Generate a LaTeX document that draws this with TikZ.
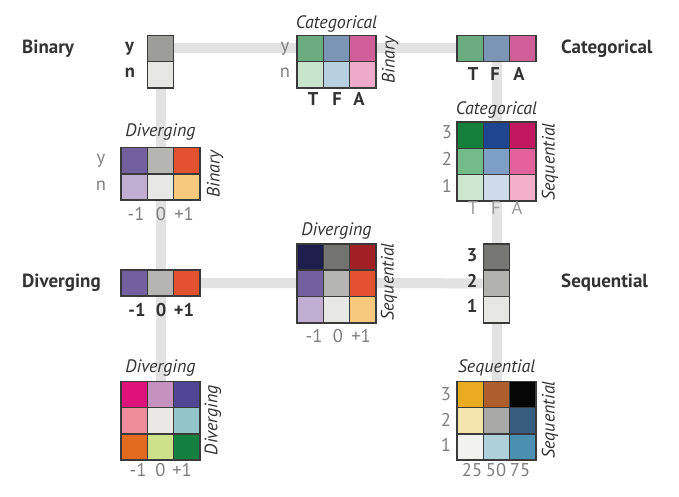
\documentclass[tikz,border=0pt]{standalone}
\usepackage{fontspec}
\setmainfont{PT Sans}
\usetikzlibrary{backgrounds}
%% general colours
\definecolor{cellborder}{HTML}{3A3A3A}
\definecolor{labeldark}{HTML}{333333}
\definecolor{labelgray}{HTML}{7E7E7E}
\definecolor{labellight}{HTML}{9A9A9A}
\definecolor{trackgray}{HTML}{E2E2E2}
%% one-dimensional boxes
\definecolor{biny}{HTML}{9D9D9A}\definecolor{binn}{HTML}{E6E6E2}
\definecolor{catT}{HTML}{6AAB80}\definecolor{catF}{HTML}{7B96B4}\definecolor{catA}{HTML}{D05F97}
\definecolor{divm}{HTML}{72609F}\definecolor{divz}{HTML}{B5B5B1}\definecolor{divp}{HTML}{E25231}
\definecolor{seq3}{HTML}{777775}\definecolor{seq2}{HTML}{B1B1AE}\definecolor{seq1}{HTML}{E6E6E2}
%% categorical x binary
\definecolor{cbyT}{HTML}{6AAB80}\definecolor{cbyF}{HTML}{7B96B4}\definecolor{cbyA}{HTML}{D05F97}
\definecolor{cbnT}{HTML}{C8E3CB}\definecolor{cbnF}{HTML}{B7D0E0}\definecolor{cbnA}{HTML}{EEAAC8}
%% diverging x binary
\definecolor{dbym}{HTML}{72609F}\definecolor{dbyz}{HTML}{B5B5B1}\definecolor{dbyp}{HTML}{E25231}
\definecolor{dbnm}{HTML}{BFAED2}\definecolor{dbnz}{HTML}{E7E7E3}\definecolor{dbnp}{HTML}{F7C97C}
%% categorical x sequential
\definecolor{cs3T}{HTML}{157F3C}\definecolor{cs3F}{HTML}{1F4591}\definecolor{cs3A}{HTML}{C3175F}
\definecolor{cs2T}{HTML}{74BB8A}\definecolor{cs2F}{HTML}{7D9FC5}\definecolor{cs2A}{HTML}{E3629C}
\definecolor{cs1T}{HTML}{CCE6D0}\definecolor{cs1F}{HTML}{CCDBE7}\definecolor{cs1A}{HTML}{F1AFC9}
%% diverging x sequential
\definecolor{ds3m}{HTML}{1E1D4B}\definecolor{ds3z}{HTML}{737471}\definecolor{ds3p}{HTML}{A12026}
\definecolor{ds2m}{HTML}{72609F}\definecolor{ds2z}{HTML}{B5B5B1}\definecolor{ds2p}{HTML}{E25231}
\definecolor{ds1m}{HTML}{BFAED2}\definecolor{ds1z}{HTML}{E7E7E3}\definecolor{ds1p}{HTML}{F7C97C}
%% diverging x diverging
\definecolor{ddpm}{HTML}{DD137B}\definecolor{ddpz}{HTML}{C592C0}\definecolor{ddpp}{HTML}{4F4595}
\definecolor{ddzm}{HTML}{EF8C9A}\definecolor{ddzz}{HTML}{E9E8E4}\definecolor{ddzp}{HTML}{93C4C8}
\definecolor{ddmm}{HTML}{E26B20}\definecolor{ddmz}{HTML}{CCE18A}\definecolor{ddmp}{HTML}{138040}
%% sequential x sequential
\definecolor{ss3a}{HTML}{E9AB20}\definecolor{ss3b}{HTML}{AD5E2A}\definecolor{ss3c}{HTML}{050505}
\definecolor{ss2a}{HTML}{F4E4AD}\definecolor{ss2b}{HTML}{A9A9A7}\definecolor{ss2c}{HTML}{395D80}
\definecolor{ss1a}{HTML}{F2F2F0}\definecolor{ss1b}{HTML}{AED0DA}\definecolor{ss1c}{HTML}{4B8FB1}
\begin{document}
\begin{tikzpicture}
[x=1pt,y=-1pt,
  celldecorate/.style={shape=rectangle,draw=cellborder,line width=1.6pt,
    minimum width=26.3pt,minimum height=26.3pt,inner sep=0pt},%
  linedecorate/.style={-,line width=10pt,draw=trackgray},%
  namedecorate/.style={anchor=west,inner sep=0pt,text=labeldark,
    font=\fontsize{19}{21}\selectfont\bfseries},%
  titledecorate/.style={inner sep=0pt,text=labeldark,
    font=\fontsize{18}{20}\selectfont\itshape},%
  tickdecorate/.style={inner sep=0pt,text=labelgray,text height=1.5ex,text depth=0.25ex,
    font=\fontsize{18.5}{20}\selectfont},%
  boldtick/.style={tickdecorate,text=labeldark,font=\fontsize{18.5}{20}\selectfont\bfseries}]
\useasboundingbox (0,0) rectangle (679,497);
%% one-dimensional boxes
\foreach \nodename/\x/\y/\shade in {bin-y/160.5/48.5/biny, bin-n/160.5/74.8/binn,
  cat-T/470.2/48.5/catT, cat-F/496.5/48.5/catF, cat-A/522.8/48.5/catA,
  div-m/134.2/283/divm, div-z/160.5/283/divz, div-p/186.8/283/divp,
  seq-3/496.5/257/seq3, seq-2/496.5/283.3/seq2, seq-1/496.5/309.6/seq1}
{
  \node (\nodename) at (\x,\y) [celldecorate,fill=\shade] {};
}
%% matrices: name, rows, columns
\foreach \r/\y in {y/48.5, n/74.8}
  \foreach \c/\x in {T/310.2, F/336.5, A/362.8}
    \node (cb-\r\c) at (\x,\y) [celldecorate,fill=cb\r\c] {};
\foreach \r/\y in {y/160.5, n/187}
  \foreach \c/\x in {m/134.2, z/160.5, p/186.8}
    \node (db-\r\c) at (\x,\y) [celldecorate,fill=db\r\c] {};
\foreach \r/\y in {3/135.2, 2/161.5, 1/187.8}
  \foreach \c/\x in {T/470.2, F/496.5, A/522.8}
    \node (cs-\r\c) at (\x,\y) [celldecorate,fill=cs\r\c] {};
\foreach \r/\y in {3/257, 2/283.3, 1/309.6}
  \foreach \c/\x in {m/310.2, z/336.5, p/362.8}
    \node (ds-\r\c) at (\x,\y) [celldecorate,fill=ds\r\c] {};
\foreach \r/\y in {p/394.5, z/420.8, m/447.1}
  \foreach \c/\x in {m/134.2, z/160.5, p/186.8}
    \node (dd-\r\c) at (\x,\y) [celldecorate,fill=dd\r\c] {};
\foreach \r/\y in {3/394.5, 2/420.8, 1/447.1}
  \foreach \c/\x in {a/470.2, b/496.5, c/522.8}
    \node (ss-\r\c) at (\x,\y) [celldecorate,fill=ss\r\c] {};
%% tracks behind the boxes
\begin{scope}[on background layer]
\path
\foreach \startnode/\endnode in {bin-y/cat-T, bin-n/div-z, div-z/dd-zz,
  div-p/seq-2, cat-F/seq-3, seq-1/ss-2b} {
  (\startnode) edge[linedecorate] (\endnode)
};
\end{scope}
%% names of the types
\foreach \nodename/\x/\y/\caption in {bin-name/22/48.5/Binary,
  cat-name/561/48.5/Categorical, div-name/22/283/Diverging,
  seq-name/561/283/Sequential}
  \node (\nodename) at (\x,\y) [namedecorate] {\caption};
%% titles above and beside the matrices
\foreach \nodename/\x/\y/\caption in {cb-top/336.5/24/Categorical,
  db-top/160.5/132/Diverging, cs-top/496.5/110/Categorical,
  ds-top/336.5/231/Diverging, dd-top/160.5/368/Diverging,
  ss-top/496.5/368/Sequential}
  \node (\nodename) at (\x,\y) [titledecorate] {\caption};
\foreach \nodename/\x/\y/\caption in {cb-side/390/60/Binary,
  db-side/215/174/Binary, cs-side/550/162/Sequential,
  ds-side/389/282/Sequential, dd-side/213/420/Diverging,
  ss-side/550/420/Sequential}
  \node (\nodename) at (\x,\y) [titledecorate,rotate=90] {\caption};
%% ticks of the one-dimensional boxes
\foreach \nodename/\x/\y/\caption in {bin-ty/129.5/48.5/y, bin-tn/130/74.8/n,
  cat-tT/473/77.5/T, cat-tF/495/77.5/F, cat-tA/519/77.5/A,
  div-tm/137/313/-1, div-tz/161/313/0, div-tp/184/313/+1,
  seq-t3/472/258/3, seq-t2/472/284/2, seq-t1/472/309/1,
  cb-tT/313/102/T, cb-tF/337/102/F, cb-tA/359/102/A}
  \node (\nodename) at (\x,\y) [boldtick] {\caption};
%% ticks of the matrices
\foreach \nodename/\x/\y/\caption in {cb-ty/285/48.5/y, cb-tn/285/74.8/n,
  db-ty/101/160.5/y, db-tn/101/187/n,
  db-tm/136/217/-1, db-tz/161/217/0, db-tp/184/217/+1,
  cs-t3/447/135/3, cs-t2/447/162/2, cs-t1/447/189/1,
  ds-tm/314/339/-1, ds-tz/338/339/0, ds-tp/361/339/+1,
  dd-tm/138/473/-1, dd-tz/160.5/473/0, dd-tp/182/473/+1,
  ss-t3/446/397.5/3, ss-t2/446/423/2, ss-t1/446/448/1,
  ss-ta/472/473/25, ss-tb/496/473/50, ss-tc/520/473/75}
  \node (\nodename) at (\x,\y) [tickdecorate] {\caption};
\foreach \nodename/\x/\y/\caption in {cs-tT/473/211/T, cs-tF/496/211/F, cs-tA/517/211/A}
  \node (\nodename) at (\x,\y) [tickdecorate,text=labellight] {\caption};
\end{tikzpicture}
\end{document}
